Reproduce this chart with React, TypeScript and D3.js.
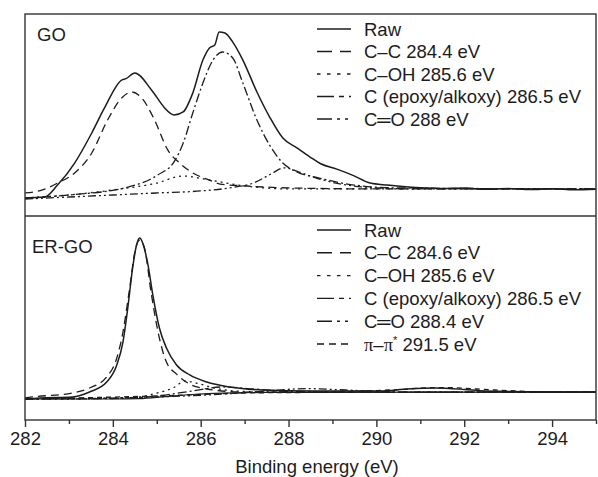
import React, { useEffect, useRef } from 'react';
import * as d3 from 'd3';

// [binding energy (eV), intensity (a.u.)]
const goRaw: [number, number][] = [
  [282.0, 8.9], [282.45, 9.4], [282.74, 15.3], [283.13, 26.2], [283.52, 41.1], [283.81, 53.5],
  [284.2, 67.3], [284.3, 68.0], [284.5, 70.8], [284.88, 62.4], [285.18, 53.5], [285.3, 51.0],
  [285.4, 50.0], [285.6, 51.5], [285.82, 60.9], [286.05, 77.2], [286.2, 83.2], [286.32, 84.6],
  [286.42, 91.1], [286.55, 90.6], [286.73, 86.1], [286.96, 77.2], [287.28, 61.4], [287.57, 49.0],
  [287.87, 38.6], [288.19, 33.7], [288.49, 29.2], [288.72, 26.0], [289.1, 23.2], [289.48, 20.0],
  [289.86, 16.3], [290.25, 15.3], [290.6, 14.6], [291.0, 14.0], [291.5, 13.6], [292.0, 13.9],
  [292.5, 13.2], [293.0, 13.6], [293.5, 13.1], [294.0, 13.5], [294.5, 13.0], [295.0, 13.3],
];
const goCC: [number, number][] = [
  [282.0, 11.4], [282.4, 12.9], [282.74, 16.3], [283.13, 21.3], [283.52, 31.2], [283.88, 47.5],
  [284.2, 58.4], [284.43, 61.4], [284.66, 58.4], [284.95, 47.5], [285.25, 32.7], [285.52, 26.2],
  [285.82, 21.3], [286.2, 17.8], [286.44, 15.8], [287.0, 14.9], [288.0, 13.9], [290.0, 13.4], [295.0, 13.4],
];
const goCOH: [number, number][] = [
  [282.0, 8.9], [283.0, 10.4], [284.0, 12.9], [285.0, 16.3], [285.6, 19.8], [286.2, 17.8],
  [287.0, 14.9], [288.0, 13.4], [290.0, 13.4], [295.0, 13.4],
];
const goEpoxy: [number, number][] = [
  [282.0, 8.9], [283.0, 10.4], [284.27, 13.9], [285.02, 20.3], [285.4, 27.0], [285.6, 36.0],
  [285.82, 51.0], [286.05, 65.8], [286.28, 77.2], [286.5, 81.2], [286.73, 78.2], [286.96, 65.8],
  [287.28, 47.5], [287.57, 35.1], [287.87, 26.2], [288.19, 21.8], [288.7, 18.8], [289.5, 15.3],
  [290.5, 13.9], [295.0, 13.4],
];
const goCO: [number, number][] = [
  [282.0, 8.4], [283.0, 9.4], [284.0, 10.4], [285.0, 11.4], [286.0, 12.4], [286.8, 14.4],
  [287.2, 16.3], [287.6, 20.8], [287.9, 23.8], [288.3, 21.3], [288.7, 18.3], [289.2, 15.8],
  [290.0, 13.9], [291.0, 13.4], [295.0, 13.4],
];

const ergoRaw: [number, number][] = [
  [282.0, 10.3], [282.33, 10.8], [283.08, 11.3], [283.47, 13.7], [283.86, 18.6], [284.09, 27.0],
  [284.23, 38.2], [284.34, 54.9], [284.45, 74.5], [284.54, 85.8], [284.61, 89.2], [284.68, 86.8],
  [284.8, 76.0], [284.91, 61.3], [285.06, 45.1], [285.22, 35.3], [285.45, 27.0], [285.75, 22.1],
  [286.14, 18.6], [286.66, 16.2], [287.42, 14.7], [288.56, 14.2], [290.08, 14.2], [290.7, 15.2],
  [291.33, 15.7], [292.0, 15.0], [292.47, 14.2], [294.76, 13.7], [295.0, 13.7],
];
const ergoCC: [number, number][] = [
  [282.0, 10.8], [282.17, 11.3], [283.08, 13.2], [283.47, 15.7], [283.86, 21.1], [284.09, 30.4],
  [284.23, 43.1], [284.37, 62.7], [284.52, 84.3], [284.61, 88.2], [284.72, 84.3], [284.87, 62.7],
  [285.03, 43.1], [285.22, 28.4], [285.45, 22.5], [285.75, 17.6], [286.14, 15.2], [287.0, 13.7],
  [295.0, 13.7],
];
const ergoCOH: [number, number][] = [
  [282.0, 10.3], [283.0, 10.3], [284.0, 10.8], [284.6, 11.3], [285.0, 13.2], [285.37, 15.7],
  [285.65, 19.1], [285.9, 18.1], [286.3, 15.7], [286.8, 14.2], [288.0, 13.7], [295.0, 13.7],
];
const ergoEpoxy: [number, number][] = [
  [282.0, 10.3], [284.0, 10.5], [285.0, 11.8], [285.8, 14.2], [286.5, 16.2], [287.2, 15.2],
  [288.0, 14.0], [289.0, 13.7], [295.0, 13.7],
];
const ergoCO: [number, number][] = [
  [282.0, 10.3], [285.0, 11.3], [286.5, 12.7], [287.5, 14.2], [288.4, 15.4], [289.3, 14.7],
  [290.5, 13.7], [295.0, 13.7],
];
const ergoPi: [number, number][] = [
  [282.0, 10.3], [285.0, 11.8], [287.0, 13.2], [289.0, 13.7], [290.3, 14.7], [291.5, 15.9],
  [292.7, 14.7], [294.0, 13.7], [295.0, 13.7],
];
const ergoBackground: [number, number][] = [
  [282.0, 10.3], [284.0, 10.3], [284.6, 10.5], [285.2, 11.5], [285.8, 12.5], [286.5, 13.2],
  [287.5, 13.5], [295.0, 13.7],
];

const goLegend = ['Raw', 'C–C 284.4 eV', 'C–OH 285.6 eV', 'C (epoxy/alkoxy) 286.5 eV', 'C═O 288 eV'];
const ergoLegend = ['Raw', 'C–C 284.6 eV', 'C–OH 285.6 eV', 'C (epoxy/alkoxy) 286.5 eV', 'C═O 288.4 eV', 'π–π* 291.5 eV'];
const xMajorTicks = [282, 284, 286, 288, 290, 292, 294];
const xMinorTicks = [283, 285, 287, 289, 291, 293, 295];

// line style per series: plot dash, legend dash
const plotDash = ['none', '8,5', '2,4', '9,3,2,3', '8,3,2,3,2,3', '5,4'];
const legendDash = ['none', '15,8', '3.5,6.5', '17,5,5,5', '15,5,3,5,3,5', '7,5'];

const W = 598, H = 477;
const left = 25, right = 596, top = 14, mid = 216, bottom = 420;
const ink = '#1c1c1c';
const font = '"Liberation Sans", Arial, sans-serif';

export default function App() {
  const ref = useRef<SVGSVGElement>(null);

  useEffect(() => {
    const svg = d3.select(ref.current);
    svg.selectAll('*').remove();

    const x = d3.scaleLinear().domain([282, 295]).range([left, right]);
    const yTop = d3.scaleLinear().domain([0, 100]).range([mid, top]);
    const yBot = d3.scaleLinear().domain([0, 100]).range([bottom, mid]);

    const defs = svg.append('defs');
    defs.append('clipPath').attr('id', 'clipTop').append('rect')
      .attr('x', left).attr('y', top).attr('width', right - left).attr('height', mid - top);
    defs.append('clipPath').attr('id', 'clipBot').append('rect')
      .attr('x', left).attr('y', mid).attr('width', right - left).attr('height', bottom - mid);

    const drawPanel = (
      series: [number, number][][], y: d3.ScaleLinear<number, number>, clip: string,
      label: string, labelY: number, legend: string[], legendY0: number, legendStep: number,
      extra?: [number, number][],
    ) => {
      const g = svg.append('g').attr('clip-path', `url(#${clip})`);
      const line = d3.line<[number, number]>()
        .x(d => x(d[0])).y(d => y(d[1]))
        .curve(d3.curveMonotoneX);

      if (extra) {
        g.append('path').attr('d', line(extra)).attr('fill', 'none')
          .attr('stroke', ink).attr('stroke-width', 1.2);
      }
      // components first, raw last on top
      series.slice(1).forEach((s, i) => {
        g.append('path').attr('d', line(s)).attr('fill', 'none')
          .attr('stroke', ink).attr('stroke-width', 1.3)
          .attr('stroke-dasharray', plotDash[i + 1]);
      });
      g.append('path').attr('d', line(series[0])).attr('fill', 'none')
        .attr('stroke', ink).attr('stroke-width', 1.5);

      svg.append('text').attr('x', label === 'GO' ? 37 : 32).attr('y', labelY)
        .attr('font-family', font).attr('font-size', 18.5).attr('fill', ink).text(label);

      legend.forEach((t, i) => {
        const cy = legendY0 + i * legendStep;
        svg.append('line').attr('x1', 317).attr('x2', 351).attr('y1', cy).attr('y2', cy)
          .attr('stroke', ink).attr('stroke-width', 1.4)
          .attr('stroke-dasharray', legendDash[i]);
        const txt = svg.append('text').attr('x', 364).attr('y', cy + 6.5)
          .attr('font-family', font).attr('font-size', 18.5).attr('fill', ink);
        if (t.startsWith('π')) {
          txt.append('tspan').attr('font-family', '"Liberation Serif", serif').text('π');
          txt.append('tspan').text('–');
          txt.append('tspan').attr('font-family', '"Liberation Serif", serif').text('π');
          txt.append('tspan').attr('font-size', 11).attr('dy', -7).text('*');
          txt.append('tspan').attr('dy', 7).text(t.slice(4));
        } else {
          txt.text(t);
        }
      });
    };

    drawPanel([goRaw, goCC, goCOH, goEpoxy, goCO], yTop, 'clipTop', 'GO', 41, goLegend, 29, 22.5);
    drawPanel([ergoRaw, ergoCC, ergoCOH, ergoEpoxy, ergoCO, ergoPi], yBot, 'clipBot', 'ER-GO', 253,
      ergoLegend, 230, 22.8, ergoBackground);

    // frame
    svg.append('rect').attr('x', left).attr('y', top).attr('width', right - left).attr('height', bottom - top)
      .attr('fill', 'none').attr('stroke', '#333').attr('stroke-width', 1.4);
    svg.append('line').attr('x1', left).attr('x2', right).attr('y1', mid).attr('y2', mid)
      .attr('stroke', '#333').attr('stroke-width', 1.4);

    // x axis
    const axisMajor = svg.append('g').attr('transform', `translate(0,${bottom})`)
      .call(d3.axisBottom(x).tickValues(xMajorTicks).tickSize(7).tickPadding(5).tickFormat(d3.format('d')));
    axisMajor.select('.domain').remove();
    axisMajor.selectAll('line').attr('stroke', '#333').attr('stroke-width', 1.4);
    axisMajor.selectAll('text').attr('font-family', font).attr('font-size', 18.5).attr('fill', ink);

    const axisMinor = svg.append('g').attr('transform', `translate(0,${bottom})`)
      .call(d3.axisBottom(x).tickValues(xMinorTicks).tickSize(4).tickFormat(() => ''));
    axisMinor.select('.domain').remove();
    axisMinor.selectAll('line').attr('stroke', '#333').attr('stroke-width', 1.4);

    svg.append('text').attr('x', 317).attr('y', 473).attr('text-anchor', 'middle')
      .attr('font-family', font).attr('font-size', 18.5).attr('fill', ink).text('Binding energy (eV)');
  }, []);

  return (
    <svg ref={ref} width={W} height={H}
      style={{ position: 'absolute', left: 0, top: 0, background: '#fff' }} />
  );
}
